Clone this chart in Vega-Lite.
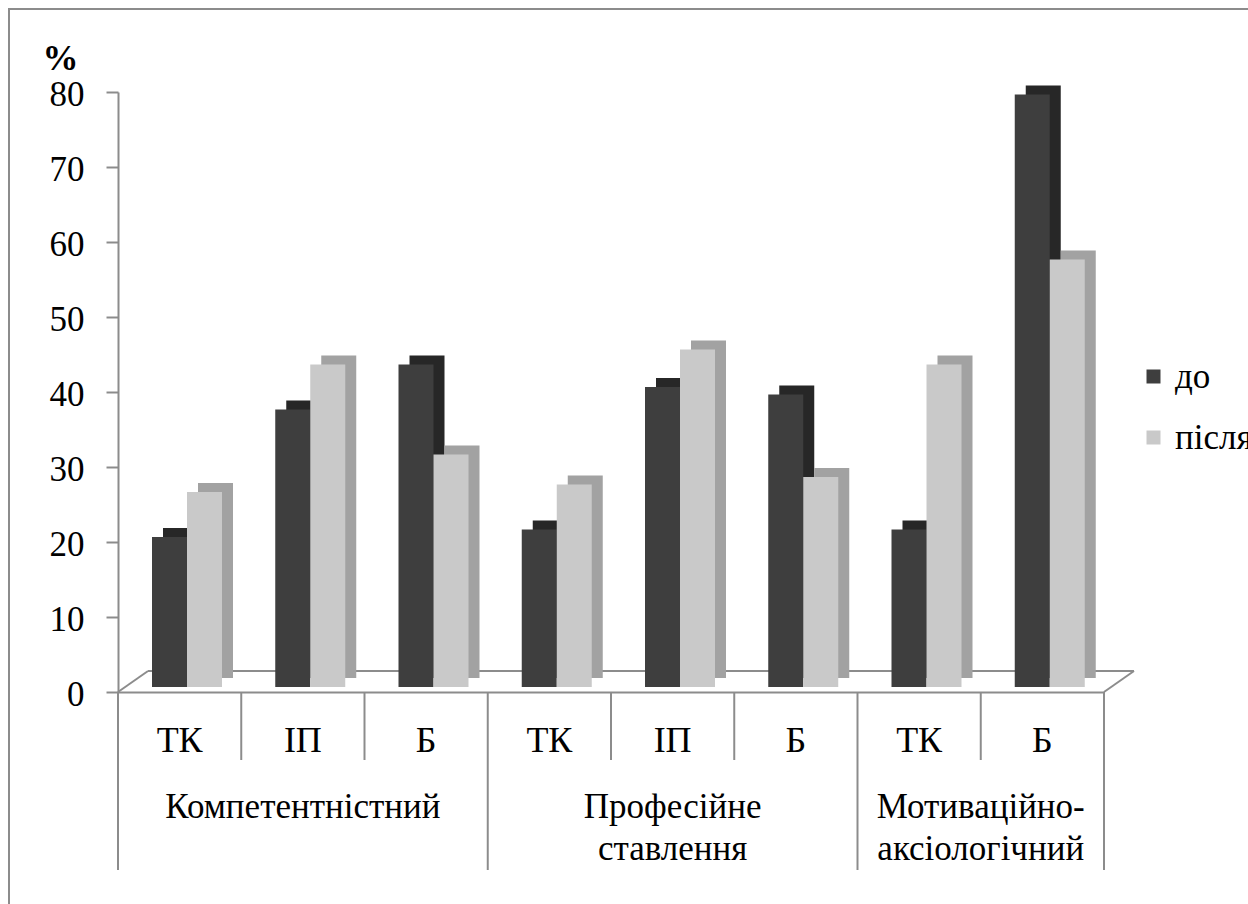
{
  "$schema": "https://vega.github.io/schema/vega-lite/v6.json",
  "autosize": {"type": "none"},
  "padding": {"left": 9, "top": 9, "right": -3, "bottom": -3},
  "width": 1242,
  "height": 898,
  "background": "white",
  "config": {
    "font": "Liberation Serif",
    "view": {"stroke": "#8c8c8c", "strokeWidth": 2},
    "text": {"font": "Liberation Serif", "fontSize": 35, "color": "#000000"}
  },
  "datasets": {
    "scores": [
      {"group": "Компетентністний", "sub": "ТК", "cat": "К-ТК", "phase": "до", "value": 20},
      {"group": "Компетентністний", "sub": "ТК", "cat": "К-ТК", "phase": "після", "value": 26},
      {"group": "Компетентністний", "sub": "ІП", "cat": "К-ІП", "phase": "до", "value": 37},
      {"group": "Компетентністний", "sub": "ІП", "cat": "К-ІП", "phase": "після", "value": 43},
      {"group": "Компетентністний", "sub": "Б", "cat": "К-Б", "phase": "до", "value": 43},
      {"group": "Компетентністний", "sub": "Б", "cat": "К-Б", "phase": "після", "value": 31},
      {"group": "Професійне ставлення", "sub": "ТК", "cat": "П-ТК", "phase": "до", "value": 21},
      {"group": "Професійне ставлення", "sub": "ТК", "cat": "П-ТК", "phase": "після", "value": 27},
      {"group": "Професійне ставлення", "sub": "ІП", "cat": "П-ІП", "phase": "до", "value": 40},
      {"group": "Професійне ставлення", "sub": "ІП", "cat": "П-ІП", "phase": "після", "value": 45},
      {"group": "Професійне ставлення", "sub": "Б", "cat": "П-Б", "phase": "до", "value": 39},
      {"group": "Професійне ставлення", "sub": "Б", "cat": "П-Б", "phase": "після", "value": 28},
      {"group": "Мотиваційно-аксіологічний", "sub": "ТК", "cat": "М-ТК", "phase": "до", "value": 21},
      {"group": "Мотиваційно-аксіологічний", "sub": "ТК", "cat": "М-ТК", "phase": "після", "value": 43},
      {"group": "Мотиваційно-аксіологічний", "sub": "Б", "cat": "М-Б", "phase": "до", "value": 79},
      {"group": "Мотиваційно-аксіологічний", "sub": "Б", "cat": "М-Б", "phase": "після", "value": 57}
    ],
    "bounds": [
      {"cat": "К-ТК", "kind": "group"},
      {"cat": "К-ІП", "kind": "sub"},
      {"cat": "К-Б", "kind": "sub"},
      {"cat": "П-ТК", "kind": "group"},
      {"cat": "П-ІП", "kind": "sub"},
      {"cat": "П-Б", "kind": "sub"},
      {"cat": "М-ТК", "kind": "group"},
      {"cat": "М-Б", "kind": "sub"}
    ]
  },
  "layer": [
    {
      "description": "back edge of the floor",
      "data": {"values": [{}]},
      "mark": {"type": "rule", "color": "#8c8c8c", "strokeWidth": 2, "xOffset": 30, "x2Offset": 30, "yOffset": -21},
      "encoding": {
        "x": {"datum": "К-ТК", "type": "nominal", "bandPosition": 0,
              "scale": {"domain": ["К-ТК", "К-ІП", "К-Б", "П-ТК", "П-ІП", "П-Б", "М-ТК", "М-Б"], "range": [109, 1095], "paddingInner": 0, "paddingOuter": 0}},
        "x2": {"datum": "М-Б", "bandPosition": 1},
        "y": {"datum": 0, "type": "quantitative", "scale": {"domain": [0, 80], "range": [683, 83], "nice": false}}
      }
    },
    {
      "description": "left side of the floor",
      "data": {"values": [{}]},
      "mark": {"type": "rule", "color": "#8c8c8c", "strokeWidth": 2, "x2Offset": 30, "y2Offset": -21},
      "encoding": {
        "x": {"datum": "К-ТК", "type": "nominal", "bandPosition": 0},
        "x2": {"datum": "К-ТК", "bandPosition": 0},
        "y": {"datum": 0, "type": "quantitative"},
        "y2": {"datum": 0}
      }
    },
    {
      "description": "right side of the floor",
      "data": {"values": [{}]},
      "mark": {"type": "rule", "color": "#8c8c8c", "strokeWidth": 2, "x2Offset": 30, "y2Offset": -21},
      "encoding": {
        "x": {"datum": "М-Б", "type": "nominal", "bandPosition": 1},
        "x2": {"datum": "М-Б", "bandPosition": 1},
        "y": {"datum": 0, "type": "quantitative"},
        "y2": {"datum": 0}
      }
    },
    {
      "description": "top and side faces of the columns",
      "data": {"name": "scores"},
      "mark": {"type": "bar", "yOffset": -14, "y2Offset": -14},
      "encoding": {
        "x": {"field": "cat", "type": "nominal"},
        "xOffset": {"field": "phase", "type": "nominal", "scale": {"domain": ["до", "після"], "range": [45, 115], "paddingInner": 0, "paddingOuter": 0}},
        "y": {"field": "value", "type": "quantitative"},
        "color": {"field": "phase", "type": "nominal", "scale": {"domain": ["до", "після"], "range": ["#272727", "#a2a2a2"]}, "legend": null}
      }
    },
    {
      "description": "front faces of the columns",
      "data": {"name": "scores"},
      "mark": {"type": "bar", "yOffset": -5, "y2Offset": -5},
      "encoding": {
        "x": {"field": "cat", "type": "nominal",
              "axis": {"orient": "bottom", "offset": -215, "labels": false, "ticks": false, "grid": false, "title": null, "domain": true, "domainColor": "#8c8c8c", "domainWidth": 2}},
        "xOffset": {"field": "phase", "type": "nominal", "scale": {"domain": ["до", "після"], "range": [34, 104], "paddingInner": 0, "paddingOuter": 0}},
        "y": {"field": "value", "type": "quantitative",
              "axis": {"orient": "left", "offset": -109, "values": [0, 10, 20, 30, 40, 50, 60, 70, 80], "grid": false,
                       "domainColor": "#8c8c8c", "domainWidth": 2, "tickColor": "#8c8c8c", "tickWidth": 2, "tickSize": 12,
                       "labelFont": "Liberation Serif", "labelFontSize": 35, "labelColor": "#000000", "labelPadding": 22, "labelOffset": 2,
                       "title": "%", "titleAngle": 0, "titleFont": "Liberation Serif", "titleFontSize": 36, "titleFontWeight": "bold", "titleColor": "#000000",
                       "titleX": -58, "titleY": 60, "titleAlign": "center", "titleBaseline": "alphabetic"}},
        "color": {"field": "phase", "type": "nominal", "scale": {"domain": ["до", "після"], "range": ["#3e3e3e", "#c9c9c9"]},
                  "legend": {"orient": "none", "legendX": 1127, "legendY": 350, "title": null, "symbolType": "square", "symbolSize": 196,
                             "symbolStrokeWidth": 0, "labelFont": "Liberation Serif", "labelFontSize": 35, "labelColor": "#000000",
                             "labelOffset": 4, "rowPadding": 25, "labelLimit": 0}}
      }
    },
    {
      "description": "short dividers between sub-categories",
      "data": {"name": "bounds"},
      "transform": [{"filter": "datum.kind === 'sub'"}],
      "mark": {"type": "rule", "color": "#8c8c8c", "strokeWidth": 2, "y2Offset": 68},
      "encoding": {
        "x": {"field": "cat", "type": "nominal", "bandPosition": 0},
        "y": {"datum": 0, "type": "quantitative"},
        "y2": {"datum": 0}
      }
    },
    {
      "description": "long dividers between groups",
      "data": {"name": "bounds"},
      "transform": [{"filter": "datum.kind === 'group'"}],
      "mark": {"type": "rule", "color": "#8c8c8c", "strokeWidth": 2, "y2Offset": 178},
      "encoding": {
        "x": {"field": "cat", "type": "nominal", "bandPosition": 0},
        "y": {"datum": 0, "type": "quantitative"},
        "y2": {"datum": 0}
      }
    },
    {
      "description": "closing divider on the right",
      "data": {"values": [{}]},
      "mark": {"type": "rule", "color": "#8c8c8c", "strokeWidth": 2, "y2Offset": 178},
      "encoding": {
        "x": {"datum": "М-Б", "type": "nominal", "bandPosition": 1},
        "y": {"datum": 0, "type": "quantitative"},
        "y2": {"datum": 0}
      }
    },
    {
      "description": "sub-category labels",
      "data": {"name": "scores"},
      "transform": [{"filter": "datum.phase === 'до'"}],
      "mark": {"type": "text", "baseline": "alphabetic", "dy": 60, "fontSize": 36},
      "encoding": {
        "x": {"field": "cat", "type": "nominal"},
        "y": {"datum": 0, "type": "quantitative"},
        "text": {"field": "sub"}
      }
    },
    {
      "description": "group labels centred on a category",
      "data": {"values": [
        {"cat": "К-ІП", "label": "Компетентністний"},
        {"cat": "П-ІП", "label": "Професійне\nставлення"}
      ]},
      "mark": {"type": "text", "baseline": "alphabetic", "dy": 126, "fontSize": 35, "lineBreak": "\n", "lineHeight": 42},
      "encoding": {
        "x": {"field": "cat", "type": "nominal"},
        "y": {"datum": 0, "type": "quantitative"},
        "text": {"field": "label"}
      }
    },
    {
      "description": "group label centred between two categories",
      "data": {"values": [
        {"cat": "М-Б", "label": "Мотиваційно-\nаксіологічний"}
      ]},
      "mark": {"type": "text", "baseline": "alphabetic", "dy": 126, "fontSize": 35, "lineBreak": "\n", "lineHeight": 42},
      "encoding": {
        "x": {"field": "cat", "type": "nominal", "bandPosition": 0},
        "y": {"datum": 0, "type": "quantitative"},
        "text": {"field": "label"}
      }
    }
  ],
  "resolve": {"scale": {"xOffset": "independent", "color": "independent"}}
}
